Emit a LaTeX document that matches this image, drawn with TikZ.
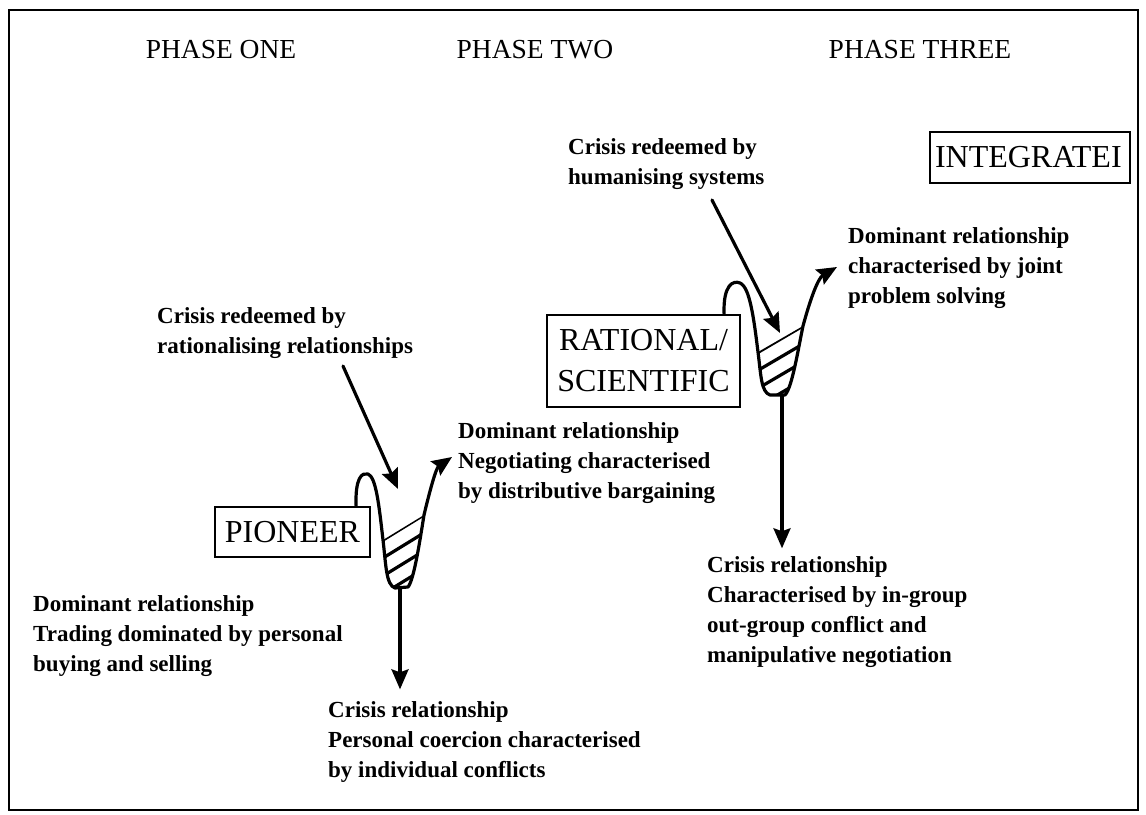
\documentclass[tikz,border=0pt]{standalone}
\usepackage{fontspec}
\setmainfont{Liberation Serif}
\usetikzlibrary{arrows.meta}
\begin{document}
\begin{tikzpicture}[x=1pt,y=-1pt,
  heading/.style={font=\fontsize{27.5}{32}\selectfont, inner sep=0pt},
  notetext/.style={font=\fontsize{23}{30}\selectfont\bfseries, align=left, anchor=west, inner sep=0pt},
  stagebox/.style={draw, line width=2.2pt, font=\fontsize{32}{41}\selectfont, align=center, inner sep=0pt},
  flow/.style={line width=3.2pt, line cap=round, line join=round},
  arrowtip/.style={-{Stealth[length=20pt,width=17pt,inset=3pt]}},
  hatchline/.style={line width=3.2pt},
]
\useasboundingbox (0,0) rectangle (1146,814);
% outer frame
\draw[line width=2pt] (9,10) rectangle (1138,810);

% phase headings
\node[heading] (h1) at (221,50) {PHASE ONE};
\node[heading] (h2) at (535,50) {PHASE TWO};
\node[heading] (h3) at (920,50) {PHASE THREE};

% stage boxes
\node[stagebox, minimum width=155pt, minimum height=50pt] (pioneer) at (292.5,532) {PIONEER};
\node[stagebox, minimum width=193pt, minimum height=92pt] (rational) at (643.5,361) {RATIONAL/\\SCIENTIFIC};
\node[stagebox, minimum width=200pt, minimum height=51pt, text width=190pt, align=left] (integrated) at (1030,157.5) {INTEGRATEI};

% annotations
\node[notetext] (redeem2) at (568,164) {Crisis redeemed by\\humanising systems};
\node[notetext] (dom3) at (848,268) {Dominant relationship\\characterised by joint\\problem solving};
\node[notetext] (redeem1) at (157,333) {Crisis redeemed by\\rationalising relationships};
\node[notetext] (dom2) at (458,463) {Dominant relationship\\Negotiating characterised\\by distributive bargaining};
\node[notetext] (dom1) at (33,636) {Dominant relationship\\Trading dominated by personal\\buying and selling};
\node[notetext] (crisis1) at (328,742) {Crisis relationship\\Personal coercion characterised\\by individual conflicts};
\node[notetext] (crisis2) at (707,612) {Crisis relationship\\Characterised by in-group\\out-group conflict and\\manipulative negotiation};

% ---- pioneer crisis curve ----
\coordinate (p0) at ([xshift=-15pt]pioneer.north east);
\begin{scope}
  \clip (383,540) .. controls (386,565) and (386,585) .. (395,588) -- (408,587)
        .. controls (414,580) and (420,540) .. (424,515) -- cycle;
  \foreach \d in {0,18,36,54}
    \draw[hatchline] (370,548+\d) -- (440,505+\d);
\end{scope}
\draw[flow, arrowtip] (p0) .. controls (355,478) and (362,472) .. (368,474)
  .. controls (376,477) and (379,505) .. (383,540)
  .. controls (386,565) and (386,585) .. (395,588) -- (408,587)
  .. controls (414,580) and (420,540) .. (424,515)
  .. controls (430,490) and (436,468) .. (452,457);
\coordinate (p1) at (400,588);
\draw[flow, arrowtip, shorten >=12pt] (p1) -- (crisis1.north west -| p1);
\coordinate (r1) at (343,366);
\coordinate (r1end) at (398,489);
\draw[flow, arrowtip] (r1) -- (r1end);

% ---- rational crisis curve ----
\coordinate (q0) at ([xshift=-17pt]rational.north east);
\begin{scope}
  \clip (758,352) .. controls (761,375) and (761,392) .. (770,395) -- (785,395)
        .. controls (792,388) and (798,350) .. (803,326) -- cycle;
  \foreach \d in {0,18,36,54}
    \draw[hatchline] (745,360+\d) -- (820,316+\d);
\end{scope}
\draw[flow, arrowtip] (q0) .. controls (723,285) and (733,280) .. (740,283)
  .. controls (750,287) and (754,320) .. (758,352)
  .. controls (761,375) and (761,392) .. (770,395) -- (785,395)
  .. controls (792,388) and (798,350) .. (803,326)
  .. controls (810,300) and (818,278) .. (837,267);
\coordinate (q1) at (782,396);
\draw[flow, arrowtip, shorten >=8pt] (q1) -- (crisis2.north west -| q1);
\coordinate (r2) at (712,200);
\coordinate (r2end) at (780,333);
\draw[flow, arrowtip] (r2) -- (r2end);
\end{tikzpicture}
\end{document}
